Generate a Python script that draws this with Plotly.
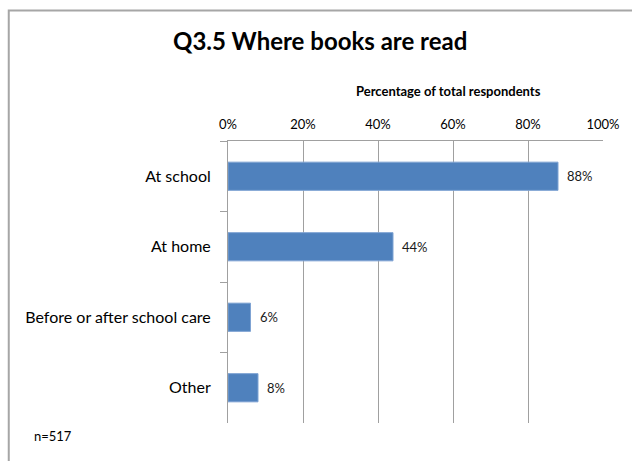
import plotly.graph_objects as go

# Survey results: where students read books
categories = ["At school", "At home", "Before or after school care", "Other"]
percentages = [88, 44, 6, 8]
x_tick_values = [0, 20, 40, 60, 80, 100]
x_tick_labels = ["0%", "20%", "40%", "60%", "80%", "100%"]
sample_note = "n=517"

FONT = "Lato, Open Sans, sans-serif"
GRID = "#A0A0A0"

fig = go.Figure()
fig.add_trace(go.Bar(
    y=categories,
    x=percentages,
    orientation="h",
    width=0.4,
    marker=dict(color="#4F81BD", line=dict(color="#7FA3D3", width=1)),
    hoverinfo="skip",
))

# value labels just right of each bar
for cat, val in zip(categories, percentages):
    fig.add_annotation(
        x=val, y=cat, xref="x", yref="y",
        text=f"{val}%", showarrow=False,
        xanchor="left", xshift=7,
        font=dict(family=FONT, size=13, color="#1a1a1a"),
    )

# chart title, axis title and sample size
fig.add_annotation(
    x=(321 - 228) / 378, y=(423 - 40) / 282, xref="paper", yref="paper",
    text="<b>Q3.5 Where books are read</b>", showarrow=False,
    xanchor="center", yanchor="middle",
    font=dict(family=FONT, size=24, color="#000000"),
)
fig.add_annotation(
    x=(450 - 228) / 378, y=(423 - 91) / 282, xref="paper", yref="paper",
    text="<b>Percentage of total respondents</b>", showarrow=False,
    xanchor="center", yanchor="middle",
    font=dict(family=FONT, size=13, color="#000000"),
)
fig.add_annotation(
    x=(30 - 228) / 378, y=(423 - 436) / 282, xref="paper", yref="paper",
    text=sample_note, showarrow=False,
    xanchor="left", yanchor="middle",
    font=dict(family=FONT, size=13, color="#000000"),
)

# outer chart frame
fig.add_shape(
    type="rect", xref="paper", yref="paper",
    x0=(7 - 228) / 378, x1=3, y0=-2, y1=(423 - 10.5) / 282,
    line=dict(color="#A6A6A6", width=2), fillcolor="rgba(0,0,0,0)",
    layer="below",
)

fig.update_layout(
    width=632, height=461,
    margin=dict(l=228, r=26, t=141, b=38),
    paper_bgcolor="white", plot_bgcolor="white",
    showlegend=False,
    bargap=0.6,
    font=dict(family=FONT, color="#000000"),
    xaxis=dict(
        side="top", range=[0, 100],
        tickvals=x_tick_values, ticktext=x_tick_labels,
        showgrid=True, gridcolor=GRID, gridwidth=1,
        showline=True, linecolor=GRID, linewidth=1,
        ticks="", zeroline=False,
        tickfont=dict(family=FONT, size=13),
        ticklabelstandoff=6,
        fixedrange=True,
    ),
    yaxis=dict(
        categoryorder="array", categoryarray=categories,
        autorange="reversed",
        showgrid=False, zeroline=False,
        showline=True, linecolor=GRID, linewidth=1,
        ticks="outside", ticklen=7, tickcolor=GRID, tickson="boundaries",
        tickfont=dict(family=FONT, size=16),
        ticklabelstandoff=13,
        fixedrange=True,
    ),
)

fig.write_html("out.html")
